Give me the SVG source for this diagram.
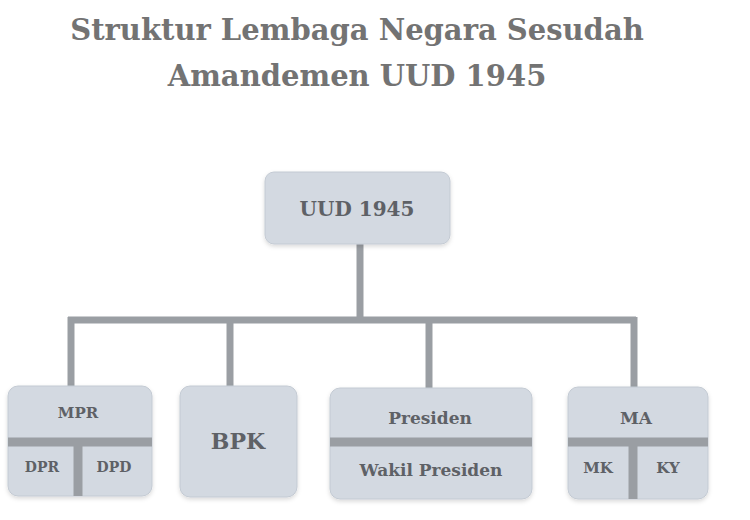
<svg xmlns="http://www.w3.org/2000/svg" width="750" height="520" viewBox="0 0 750 520">
<defs>
<filter id="sh" x="-10%" y="-10%" width="120%" height="130%">
<feDropShadow dx="0" dy="2" stdDeviation="2" flood-color="#000" flood-opacity="0.15"/>
</filter>
<style>
.box{fill:#d3d9e1;stroke:#c3cad3;stroke-width:1;filter:url(#sh)}
.div{stroke:#9a9ea3;stroke-width:9}
.con{stroke:#9a9ea3;stroke-width:7;fill:none}
.t{font-family:"DejaVu Serif","Liberation Serif",serif;font-weight:bold;fill:#5e6166;text-anchor:middle;dominant-baseline:central}
.title{font-family:"DejaVu Serif","Liberation Serif",serif;font-weight:bold;fill:#737373;text-anchor:middle}
</style>
</defs>
<rect width="750" height="520" fill="#ffffff"/>
<text class="title" x="357" y="40" font-size="29">Struktur Lembaga Negara Sesudah</text>
<text class="title" x="357" y="86" font-size="29">Amandemen UUD 1945</text>
<g id="connectors">
<line class="con" x1="360" y1="243" x2="360" y2="320"/>
<line class="con" x1="68" y1="320" x2="636" y2="320"/>
<line class="con" x1="71" y1="317" x2="71" y2="388"/>
<line class="con" x1="230" y1="317" x2="230" y2="388"/>
<line class="con" x1="429" y1="317" x2="429" y2="388"/>
<line class="con" x1="634" y1="317" x2="634" y2="388"/>
</g>
<g id="uud">
<rect class="box" x="265" y="172" width="185" height="72" rx="9"/>
<text class="t" x="357" y="209" font-size="20">UUD 1945</text>
</g>
<g id="mpr">
<rect class="box" x="8" y="386" width="144" height="110" rx="10"/>
<line class="div" x1="8" y1="442" x2="152" y2="442"/>
<line class="div" x1="78" y1="442" x2="78" y2="496"/>
<text class="t" x="78" y="413" font-size="15">MPR</text>
<text class="t" x="42" y="467" font-size="14">DPR</text>
<text class="t" x="114" y="467" font-size="14">DPD</text>
</g>
<g id="bpk">
<rect class="box" x="180" y="386" width="117" height="111" rx="10"/>
<text class="t" x="238" y="441" font-size="22">BPK</text>
</g>
<g id="presiden">
<rect class="box" x="330" y="388" width="202" height="111" rx="10"/>
<line class="div" x1="330" y1="442" x2="532" y2="442"/>
<text class="t" x="430" y="418" font-size="17">Presiden</text>
<text class="t" x="431" y="470" font-size="17">Wakil Presiden</text>
</g>
<g id="ma">
<rect class="box" x="568" y="387" width="140" height="112" rx="10"/>
<line class="div" x1="568" y1="442" x2="708" y2="442"/>
<line class="div" x1="633" y1="442" x2="633" y2="499"/>
<text class="t" x="636" y="418" font-size="17">MA</text>
<text class="t" x="598" y="468" font-size="15">MK</text>
<text class="t" x="668" y="468" font-size="15">KY</text>
</g>
</svg>
